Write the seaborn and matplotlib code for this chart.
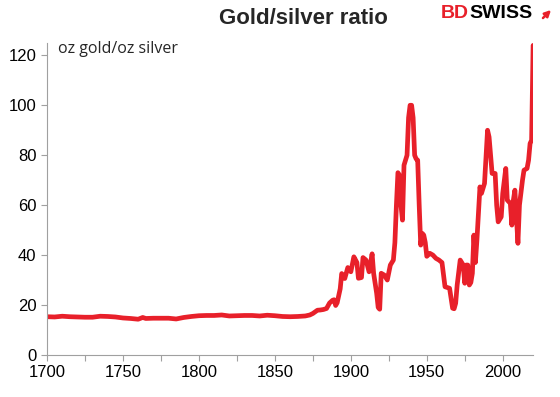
import pandas as pd
import matplotlib.pyplot as plt
import seaborn as sns

# Datos: ratio oro/plata (oz oro / oz plata)
years = [1700, 1705, 1710, 1715, 1720, 1725, 1730, 1735, 1740, 1745,
         1750, 1755, 1760, 1763, 1765, 1770, 1775, 1780, 1785, 1790,
         1795, 1800, 1805, 1810, 1815, 1820, 1825, 1830, 1835, 1840,
         1845, 1850, 1855, 1860, 1865, 1870, 1873, 1875, 1878, 1880,
         1882, 1884, 1886, 1888, 1889, 1890, 1891, 1892, 1893, 1894,
         1896, 1898, 1900, 1902, 1904, 1905, 1907, 1908, 1910, 1912,
         1913, 1914, 1915, 1917, 1918, 1919, 1920, 1922, 1924, 1926,
         1928, 1929, 1930, 1931, 1932, 1933, 1934, 1935, 1936, 1937,
         1938, 1939, 1940, 1941, 1942, 1943, 1944, 1945, 1946, 1947,
         1948, 1949, 1950, 1952, 1954, 1956, 1958, 1960, 1962, 1965,
         1967, 1968, 1969, 1970, 1971, 1972, 1974, 1975, 1976, 1977,
         1978, 1979, 1980, 1981, 1982, 1983, 1985, 1986, 1988, 1990,
         1991, 1992, 1993, 1995, 1996, 1997, 1999, 2000, 2002, 2003,
         2005, 2006, 2007, 2008, 2009, 2010, 2011, 2013, 2014, 2016,
         2017, 2018, 2019, 2020]
ratio = [15.3, 15.2, 15.5, 15.3, 15.2, 15.1, 15.1, 15.5, 15.4, 15.2,
         14.8, 14.6, 14.3, 15.0, 14.6, 14.7, 14.7, 14.7, 14.4, 15.0,
         15.4, 15.7, 15.8, 15.8, 16.0, 15.6, 15.7, 15.8, 15.8, 15.6,
         15.9, 15.7, 15.4, 15.3, 15.4, 15.6, 16.0, 16.6, 17.9, 18.0,
         18.2, 18.6, 20.8, 21.9, 22.1, 19.8, 20.9, 23.7, 26.5, 32.6,
         30.6, 35.0, 33.3, 39.3, 37.0, 30.7, 31.0, 39.0, 38.0, 33.3,
         37.0, 40.5, 32.7, 24.7, 19.0, 18.3, 32.7, 32.0, 30.0, 36.0,
         38.0, 45.0, 60.0, 73.0, 72.0, 60.0, 54.0, 76.0, 78.0, 80.0,
         95.0, 100.0, 100.0, 95.0, 80.0, 78.5, 78.0, 60.0, 44.0, 48.7,
         48.0, 45.0, 39.5, 40.7, 40.0, 38.7, 38.0, 37.0, 27.3, 26.7,
         18.7, 18.5, 20.7, 28.0, 33.0, 38.0, 36.0, 28.7, 36.0, 36.0,
         28.0, 29.0, 32.7, 48.0, 37.0, 46.0, 67.3, 64.7, 68.7, 90.0,
         87.3, 80.0, 72.7, 72.7, 60.0, 53.3, 55.3, 64.7, 74.7, 62.0,
         60.7, 52.0, 62.0, 66.0, 55.0, 44.7, 60.0, 70.0, 74.0, 74.7,
         78.0, 84.7, 86.0, 124.0]

df = pd.DataFrame({'Año': years, 'Ratio': ratio})

rojo = '#E8202A'

sns.set_style('ticks')
plt.rcParams['font.family'] = ['Liberation Sans', 'DejaVu Sans']

fig = plt.figure(figsize=(5.6, 3.97), dpi=100)
ax = fig.add_axes([0.084, 0.106, 0.868, 0.786])

sns.lineplot(data=df, x='Año', y='Ratio', ax=ax, color=rojo, linewidth=3.4)

ax.set_xlim(1700, 2020)
ax.set_ylim(0, 125)
ticks_x = list(range(1700, 2021, 25))
ax.set_xticks(ticks_x)
ax.set_xticklabels([str(y) if y % 50 == 0 else '' for y in ticks_x])
ax.set_yticks(range(0, 121, 20))
ax.tick_params(axis='both', labelsize=12, length=4, color='#A0A0A0', labelcolor='black')
ax.set_xlabel('')
ax.set_ylabel('')
for s in ['top', 'right']:
    ax.spines[s].set_visible(False)
for s in ['left', 'bottom']:
    ax.spines[s].set_color('#A0A0A0')
    ax.spines[s].set_linewidth(0.8)

fig.text(58 / 560, 1 - 49 / 397, 'oz gold/oz silver', fontsize=11.5,
         family=['Open Sans', 'DejaVu Sans'], va='center', ha='left')

# Título y logo
fig.text(303 / 560, 1 - 18 / 397, 'Gold/silver ratio', ha='center', va='center',
         fontsize=16, fontweight='bold')
fig.text(469 / 560, 1 - 14 / 397, 'BD', ha='right', va='center', fontsize=14,
         fontweight='bold', color=rojo)
fig.text(469 / 560, 1 - 14 / 397, 'SWISS', ha='left', va='center', fontsize=14,
         fontweight='bold', color='black')
fig.patches.append(plt.matplotlib.patches.FancyArrowPatch(
    (541 / 560, 1 - 20 / 397), (553 / 560, 1 - 8 / 397), transform=fig.transFigure,
    arrowstyle='-|>', mutation_scale=9, color=rojo, lw=1.8))

fig.savefig('out.png', dpi=100)
